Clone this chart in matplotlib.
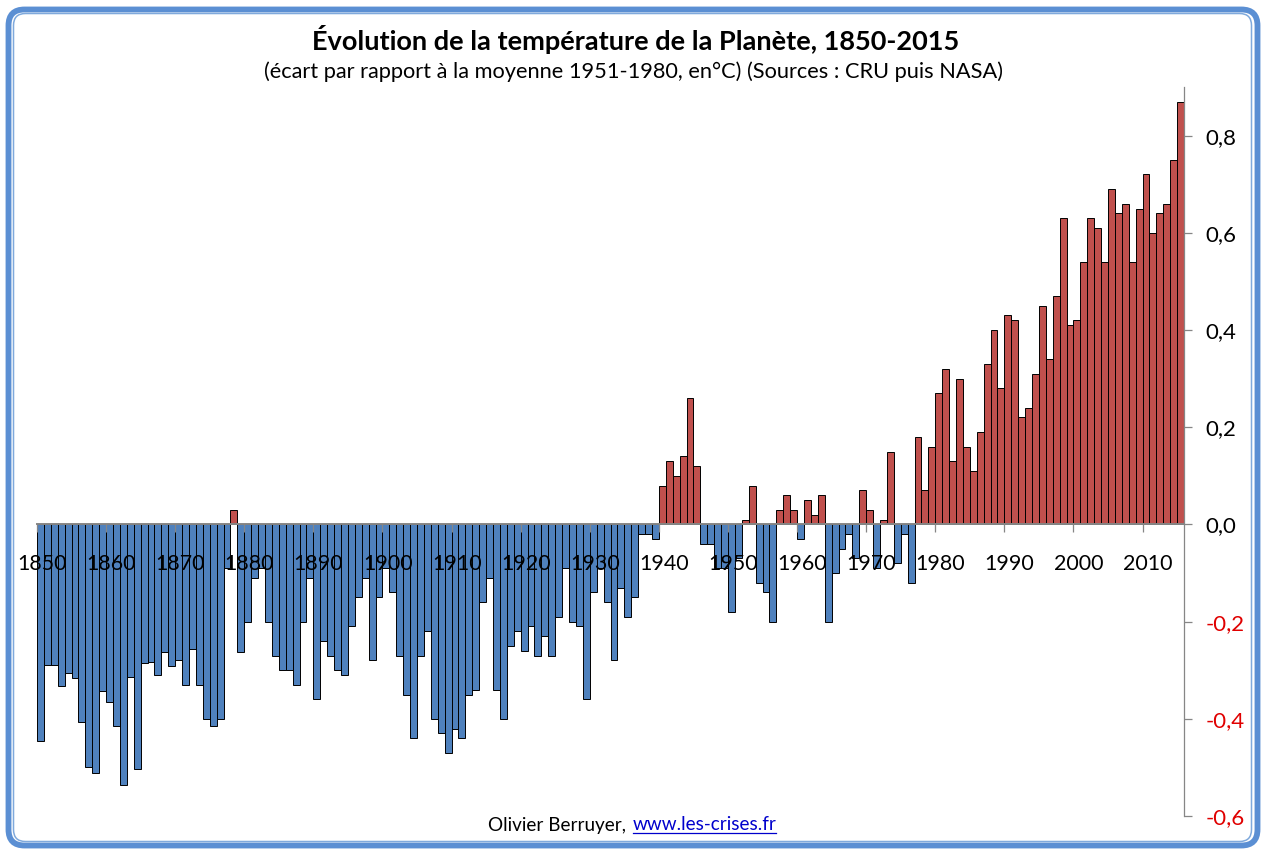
import matplotlib
matplotlib.use('Agg')
import matplotlib.pyplot as plt
import matplotlib.patches as patches
import numpy as np

plt.rcParams['font.family'] = ['Lato', 'DejaVu Sans']

# anomalies, one per year from 1850
ecarts_1850_1899 = [
    -0.445, -0.29, -0.29, -0.333, -0.305, -0.317, -0.407, -0.50, -0.512, -0.342,
    -0.365, -0.415, -0.537, -0.315, -0.504, -0.286, -0.284, -0.31, -0.263, -0.292,
    -0.28, -0.33, -0.257, -0.33, -0.40, -0.415, -0.40, -0.09, 0.03, -0.263,
    -0.20, -0.11, -0.09, -0.20, -0.27, -0.30, -0.30, -0.33, -0.20, -0.11,
    -0.36, -0.24, -0.27, -0.30, -0.31, -0.21, -0.15, -0.11, -0.28, -0.15,
]
ecarts_1900_1949 = [
    -0.09, -0.14, -0.27, -0.35, -0.44, -0.27, -0.22, -0.40, -0.43, -0.47,
    -0.42, -0.44, -0.35, -0.34, -0.16, -0.11, -0.34, -0.40, -0.25, -0.22,
    -0.26, -0.21, -0.27, -0.23, -0.27, -0.19, -0.09, -0.20, -0.21, -0.36,
    -0.14, -0.09, -0.16, -0.28, -0.13, -0.19, -0.15, -0.02, -0.02, -0.03,
    0.08, 0.13, 0.10, 0.14, 0.26, 0.12, -0.04, -0.04, -0.09, -0.09,
]
ecarts_1950_2015 = [
    -0.18, -0.07, 0.01, 0.08, -0.12, -0.14, -0.20, 0.03, 0.06, 0.03,
    -0.03, 0.05, 0.02, 0.06, -0.20, -0.10, -0.05, -0.02, -0.07, 0.07,
    0.03, -0.09, 0.01, 0.15, -0.08, -0.02, -0.12, 0.18, 0.07, 0.16,
    0.27, 0.32, 0.13, 0.30, 0.16, 0.11, 0.19, 0.33, 0.40, 0.28,
    0.43, 0.42, 0.22, 0.24, 0.31, 0.45, 0.34, 0.47, 0.63, 0.41,
    0.42, 0.54, 0.63, 0.61, 0.54, 0.69, 0.64, 0.66, 0.54, 0.65,
    0.72, 0.60, 0.64, 0.66, 0.75, 0.87,
]
ecarts = ecarts_1850_1899 + ecarts_1900_1949 + ecarts_1950_2015
annees = list(range(1850, 2016))
decennies = list(range(1850, 2011, 10))
y_ticks = [-0.6, -0.4, -0.2, 0.0, 0.2, 0.4, 0.6, 0.8]

W, H = 1266, 860
BLEU = '#4F81BD'
ROUGE = '#C0504D'
GRIS = '#868686'

fig = plt.figure(figsize=(W / 100, H / 100), dpi=100, facecolor='white')

# ---- frame and texts, in pixel coordinates ----
fond = fig.add_axes([0, 0, 1, 1], zorder=0)
fond.set_xlim(0, W)
fond.set_ylim(H, 0)
fond.axis('off')

fond.add_patch(patches.FancyBboxPatch(
    (8.5, 9.5), 1249, 836, boxstyle='round,pad=0,rounding_size=16',
    linewidth=4.2, edgecolor='#5B8FD3', facecolor='none'))
fond.add_patch(patches.FancyBboxPatch(
    (13.5, 13.5), 1238, 828, boxstyle='round,pad=0,rounding_size=12',
    linewidth=1.1, edgecolor='#7FA9DC', facecolor='none'))

fond.text(636, 39, "Évolution de la température de la Planète, 1850-2015",
          ha='center', va='center', fontsize=19.55, fontweight='bold', color='black')
fond.text(633, 72, "(écart par rapport à la moyenne 1951-1980, en°C) (Sources : CRU puis NASA)",
          ha='center', va='center', fontsize=15.7, color='black')
fond.text(488, 825, "Olivier Berruyer,", ha='left', va='center', fontsize=13.6, color='black')
fond.text(633, 825, "www.les-crises.fr", ha='left', va='center', fontsize=13.6, color='#0000CC')
fond.plot([633, 776], [833, 833], color='#0000CC', lw=0.9)

# ---- chart ----
ax = fig.add_axes([37 / W, 1 - 816 / H, (1184 - 37) / W, (816 - 87) / H], zorder=1)
ax.patch.set_alpha(0)

couleurs = [ROUGE if v > 0 else BLEU for v in ecarts]
ax.bar(annees, ecarts, width=1, color=couleurs, edgecolor='black', linewidth=0.7, zorder=2)

ax.set_xlim(1849.5, 2015.5)
ax.set_ylim(-0.6, 0.9)

ax.spines['top'].set_visible(False)
ax.spines['left'].set_visible(False)
ax.spines['right'].set_color(GRIS)
ax.spines['right'].set_linewidth(0.9)
ax.spines['bottom'].set_position(('data', 0))
ax.spines['bottom'].set_color(GRIS)
ax.spines['bottom'].set_linewidth(1.4)
ax.spines['bottom'].set_zorder(3)

# decade labels sit on the bars, ticks on the left edge of each decade
ax.set_xticks(np.array(decennies) + 0.25)
ax.set_xticklabels([str(d) for d in decennies], fontsize=15.4, color='black')
ax.tick_params(axis='x', which='major', length=0, pad=21)
ax.set_xticks(np.array(decennies) - 0.5, minor=True)
ax.tick_params(axis='x', which='minor', length=6, width=0.9, color=GRIS, direction='out')
ax.set_axisbelow(False)

ax.yaxis.tick_right()
ax.set_yticks(y_ticks)
ax.set_yticklabels([f"{v:.1f}".replace('.', ',') for v in y_ticks], fontsize=16)
ax.tick_params(axis='y', length=6, width=0.9, color=GRIS, pad=9.5)
for lab, v in zip(ax.get_yticklabels(), y_ticks):
    lab.set_color('#E00000' if v < 0 else 'black')
    lab.set_verticalalignment('center_baseline')

fig.savefig('out.png', dpi=100, facecolor='white')
